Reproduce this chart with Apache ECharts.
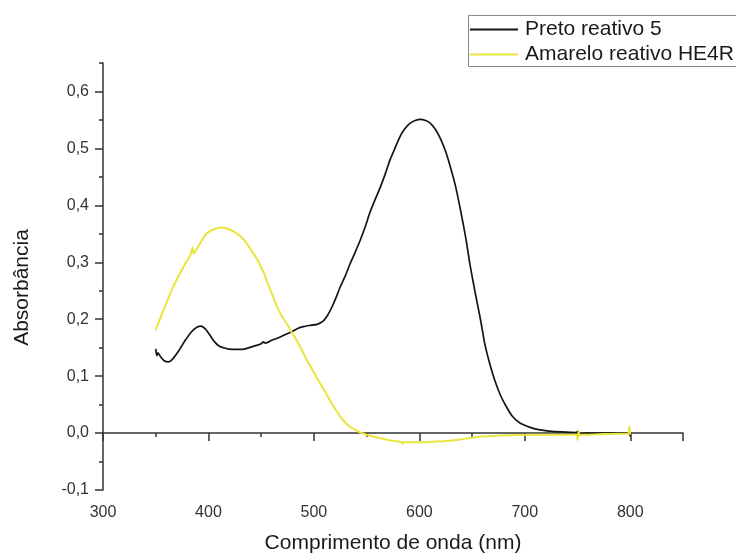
<!DOCTYPE html>
<html>
<head>
<meta charset="utf-8">
<script src="https://cdn.jsdelivr.net/npm/echarts@6/dist/echarts.min.js"></script>
<style>
  html, body { margin: 0; padding: 0; background: #ffffff; }
  #chart { width: 736px; height: 556px; }
</style>
</head>
<body>
<div id="chart"></div>
<script>
// UV-Vis absorption spectra of two reactive dyes

// Preto reativo 5 — wavelength (nm) and absorbance
const pretoNm = [350, 351, 352, 355, 358, 362, 366, 372, 378, 384, 389, 393, 397, 401, 405, 410, 416, 422, 428, 435,
  442, 450, 452, 454, 460, 467, 474, 479, 485, 490, 496, 503, 509, 513, 517, 521, 525, 530, 534, 539,
  544, 549, 553, 558, 563, 568, 572, 577, 582, 586, 591, 596, 601, 606, 610, 615, 620, 625, 629, 634,
  639, 644, 648, 653, 658, 662, 667, 672, 677, 682, 688, 695, 705, 713, 721, 735, 749, 750, 751, 760,
  775, 790, 799, 800];
const pretoAbs = [0.148, 0.136, 0.141, 0.133, 0.127, 0.125, 0.130, 0.145, 0.163, 0.178, 0.186, 0.188, 0.183, 0.173, 0.162, 0.153, 0.149, 0.147, 0.147, 0.148,
  0.152, 0.157, 0.160, 0.158, 0.163, 0.168, 0.174, 0.178, 0.184, 0.187, 0.189, 0.191, 0.197, 0.207, 0.221, 0.238, 0.257, 0.277, 0.296, 0.317,
  0.339, 0.364, 0.387, 0.410, 0.432, 0.457, 0.479, 0.501, 0.522, 0.534, 0.544, 0.549, 0.551, 0.549, 0.545, 0.534, 0.517, 0.494, 0.470, 0.436,
  0.392, 0.343, 0.296, 0.246, 0.199, 0.157, 0.120, 0.090, 0.066, 0.048, 0.030, 0.018, 0.010, 0.006, 0.004, 0.002, 0.001, 0.003, -0.001, 0.000,
  0.000, 0.000, 0.000, -0.006];

// Amarelo reativo HE4R — wavelength (nm) and absorbance
const amareloNm = [350, 355, 360, 366, 372, 378, 383, 385, 386, 391, 398, 405, 412, 418, 424, 430, 436, 441, 446, 451,
  453, 455, 460, 465, 470, 475, 479, 484, 489, 493, 498, 503, 508, 512, 517, 521, 525, 530, 535, 540,
  544, 550, 556, 563, 570, 577, 583, 584, 585, 595, 605, 615, 625, 636, 647, 658, 670, 685, 705, 730,
  749, 750, 751, 752, 770, 790, 798, 799, 800];
const amareloAbs = [0.181, 0.205, 0.228, 0.255, 0.277, 0.298, 0.313, 0.326, 0.315, 0.330, 0.350, 0.358, 0.361, 0.359, 0.354, 0.346, 0.334, 0.320, 0.306, 0.287,
  0.280, 0.268, 0.246, 0.222, 0.204, 0.190, 0.177, 0.162, 0.144, 0.129, 0.113, 0.096, 0.081, 0.068, 0.052, 0.040, 0.029, 0.018, 0.010, 0.005,
  0.001, -0.003, -0.006, -0.009, -0.012, -0.014, -0.016, -0.019, -0.016, -0.016, -0.016, -0.015, -0.014, -0.012, -0.009, -0.006, -0.005, -0.004, -0.003, -0.003,
  -0.003, -0.012, 0.004, -0.003, -0.002, -0.001, -0.001, 0.012, -0.003];

// Axis ticks
const xMajorTicks = [300, 400, 500, 600, 700, 800, 850];
const xMinorTicks = [350, 450, 550, 650, 750];
const xTickLabels = [300, 400, 500, 600, 700, 800];
const yMajorTicks = [-0.1, 0, 0.1, 0.2, 0.3, 0.4, 0.5, 0.6];
const yMinorTicks = [-0.05, 0.05, 0.15, 0.25, 0.35, 0.45, 0.55, 0.65];
const yTickLabels = [-0.1, 0, 0.1, 0.2, 0.3, 0.4, 0.5, 0.6];

const seriesNames = ['Preto reativo 5', 'Amarelo reativo HE4R'];

const zip = (xs, ys) => xs.map((x, i) => [x, ys[i]]);
const axisColor = '#333333';
const font = 'Liberation Sans, Arial, sans-serif';

const chart = echarts.init(document.getElementById('chart'), null, { renderer: 'canvas' });

const baseX = {
  type: 'value', min: 300, max: 850, position: 'bottom',
  splitLine: { show: false }
};
const baseY = {
  type: 'value', min: -0.1, max: 0.65, position: 'left',
  splitLine: { show: false }
};

chart.setOption({
  backgroundColor: '#ffffff',
  animation: false,
  grid: { left: 103, right: 53, top: 63, bottom: 66, outerBoundsMode: 'none' },
  // legend frame runs past the right edge of the canvas
  graphic: [{
    type: 'rect', z: 0, silent: true,
    shape: { x: 468.5, y: 15.5, width: 320, height: 51 },
    style: { fill: 'none', stroke: '#8a8a8a', lineWidth: 1 }
  }],
  legend: {
    orient: 'vertical',
    left: 468, top: 15,
    padding: [4, 0, 4, 2],
    itemWidth: 48, itemHeight: 2, itemGap: 4,
    icon: 'rect',
    data: seriesNames,
    textStyle: { fontFamily: font, fontSize: 21, color: '#1a1a1a', lineHeight: 20, padding: [0, 0, 0, 2] }
  },
  xAxis: [
    Object.assign({}, baseX, {
      name: 'Comprimento de onda (nm)', nameLocation: 'middle', nameGap: 43,
      nameTextStyle: { fontFamily: font, fontSize: 21, color: '#1a1a1a' },
      axisLine: { lineStyle: { color: axisColor, width: 1.5 } },
      axisTick: { length: 4, customValues: xMinorTicks, lineStyle: { color: axisColor, width: 1.5 } },
      axisLabel: { customValues: xTickLabels, margin: 15, fontFamily: font, fontSize: 16, color: '#333',
        formatter: v => String(v) }
    }),
    Object.assign({}, baseX, {
      axisLine: { show: false },
      axisTick: { length: 8, customValues: xMajorTicks, lineStyle: { color: axisColor, width: 1.5 } },
      axisLabel: { show: false }
    })
  ],
  yAxis: [
    Object.assign({}, baseY, {
      name: 'Absorbância', nameLocation: 'middle', nameGap: 70,
      nameTextStyle: { fontFamily: font, fontSize: 21, color: '#1a1a1a', padding: [0, 22, 0, 0] },
      axisLine: { lineStyle: { color: axisColor, width: 1.5 } },
      axisTick: { length: 4, customValues: yMinorTicks, lineStyle: { color: axisColor, width: 1.5 } },
      axisLabel: { customValues: yTickLabels, margin: 14, fontFamily: font, fontSize: 16, color: '#333',
        formatter: v => (Math.round(v * 10) / 10).toFixed(1).replace('.', ',') }
    }),
    Object.assign({}, baseY, {
      axisLine: { show: false },
      axisTick: { length: 8, customValues: yMajorTicks, lineStyle: { color: axisColor, width: 1.5 } },
      axisLabel: { show: false }
    })
  ],
  series: [
    {
      name: seriesNames[0], type: 'line', xAxisIndex: 0, yAxisIndex: 0,
      data: zip(pretoNm, pretoAbs), showSymbol: false, smooth: 0.2,
      color: '#151515', lineStyle: { width: 1.7, color: '#151515' }
    },
    {
      name: seriesNames[1], type: 'line', xAxisIndex: 0, yAxisIndex: 0,
      data: zip(amareloNm, amareloAbs), showSymbol: false, smooth: 0.2,
      color: '#e8e63c', lineStyle: { width: 2, color: '#e8e63c' }
    }
  ]
});
</script>
</body>
</html>
